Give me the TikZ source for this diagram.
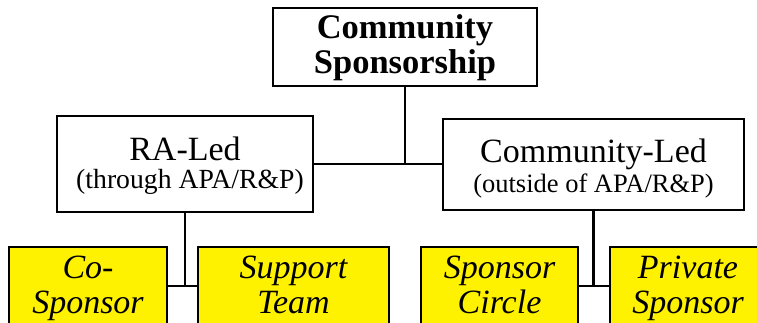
\documentclass[tikz,border=0pt]{standalone}
\usepackage{fontspec}
\setmainfont{Liberation Serif}
\begin{document}
\begin{tikzpicture}[x=1pt,y=-1pt,
  box/.style={draw=black, line width=2.6pt, fill=white, inner sep=0pt, rectangle},
  leaf/.style={box, fill=yellow, minimum height=78pt},
  wire/.style={draw=black, line width=2.6pt},
  txt/.style={anchor=base, inner sep=0pt},
  big/.style={txt, font=\fontsize{34}{35}\selectfont},
  bigbold/.style={txt, font=\fontsize{34.5}{35}\selectfont\bfseries},
  small/.style={txt, font=\fontsize{26.5}{28}\selectfont},
  leaftxt/.style={txt, font=\fontsize{34}{35}\selectfont\itshape}]
\useasboundingbox (0,0) rectangle (757,323);
\clip (0,0) rectangle (757,323);

% boxes
\node[box, minimum width=264pt, minimum height=78pt] (title) at (405,47) {};
\node[box, minimum width=256pt, minimum height=96pt] (ra) at (185,164) {};
\node[box, minimum width=301pt, minimum height=91pt] (cl) at (593.5,164.5) {};
\node[leaf, minimum width=158pt] (co) at (88,286) {};
\node[leaf, minimum width=191pt] (st) at (293.5,286) {};
\node[leaf, minimum width=157pt] (sc) at (499.5,286) {};
\node[leaf, minimum width=156pt] (ps) at (688,286) {};

% connectors
\draw[wire] (ra.east) -- (ra.east -| cl.west);
\draw[wire] (title.south) -- (title.south |- ra.east);
\draw[wire] (ra.south) -- (ra.south |- co.east);
\draw[wire] (co.east) -- (st.west);
\draw[wire] (cl.south) -- (cl.south |- sc.east);
\draw[wire] (sc.east) -- (ps.west);

% labels
\node[bigbold] (t1) at (405,39) {Community};
\node[bigbold] (t2) at (405,74) {Sponsorship};
\node[big] (ra1) at (185,161) {RA-Led};
\node[small, font=\fontsize{27.7}{29}\selectfont] (ra2) at (190,189) {(through APA/R\&P)};
\node[big] (cl1) at (593.5,163) {Community-Led};
\node[small] (cl2) at (593.5,193) {(outside of APA/R\&P)};
\node[leaftxt] (co1) at (88,278) {Co-};
\node[leaftxt] (co2) at (88,313) {Sponsor};
\node[leaftxt] (st1) at (293.5,278) {Support};
\node[leaftxt] (st2) at (293.5,313) {Team};
\node[leaftxt] (sc1) at (499.5,278) {Sponsor};
\node[leaftxt] (sc2) at (499.5,313) {Circle};
\node[leaftxt] (ps1) at (688,278) {Private};
\node[leaftxt] (ps2) at (688,313) {Sponsor};
\end{tikzpicture}
\end{document}
